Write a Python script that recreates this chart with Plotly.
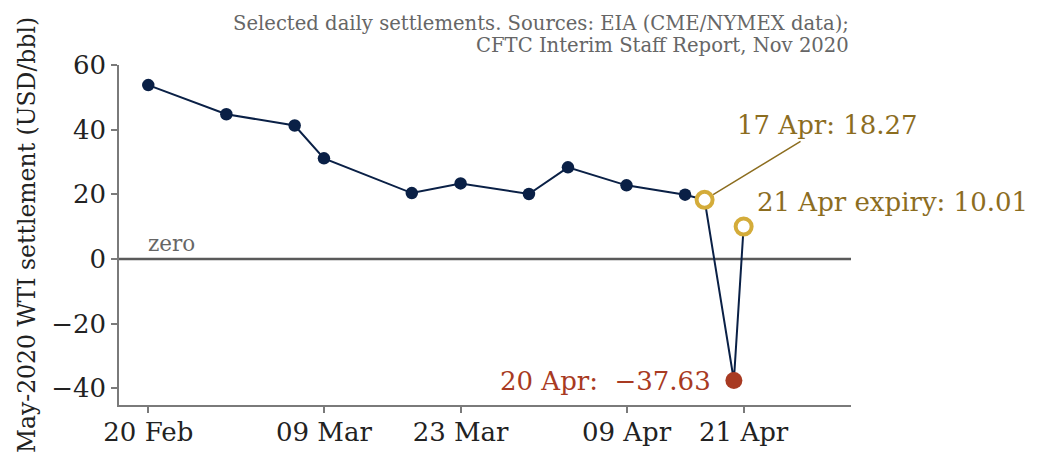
import plotly.graph_objects as go

dates = ["2020-02-20", "2020-02-28", "2020-03-06", "2020-03-09", "2020-03-18",
         "2020-03-23", "2020-03-30", "2020-04-03", "2020-04-09", "2020-04-15",
         "2020-04-17", "2020-04-20", "2020-04-21"]
prices = [53.78, 44.76, 41.28, 31.13, 20.37, 23.36, 20.09, 28.34, 22.76, 19.87,
          18.27, -37.63, 10.01]

hollow_dates = ["2020-04-17", "2020-04-21"]
hollow_prices = [18.27, 10.01]
neg_date = ["2020-04-20"]
neg_price = [-37.63]

tick_vals = ["2020-02-20", "2020-03-09", "2020-03-23", "2020-04-09", "2020-04-21"]
tick_text = ["20 Feb", "09 Mar", "23 Mar", "09 Apr", "21 Apr"]

NAVY = "#0a2046"
GOLD = "#d4ac3a"
GOLD_TXT = "#8c6d1f"
RED = "#a83a22"
AXC = "#7a7a7a"
FONT = "DejaVu Serif"

fig = go.Figure()
fig.add_shape(type="line", xref="paper", x0=0, x1=1, yref="y", y0=0, y1=0,
              line=dict(color="#5a5a5a", width=2.5), layer="below")
fig.add_trace(go.Scatter(x=dates, y=prices, mode="lines",
                         line=dict(color=NAVY, width=2), showlegend=False))
fig.add_trace(go.Scatter(x=dates[:-3], y=prices[:-3], mode="markers",
                         marker=dict(color=NAVY, size=12.5), showlegend=False))
fig.add_trace(go.Scatter(x=neg_date, y=neg_price, mode="markers",
                         marker=dict(color=RED, size=17), showlegend=False))
fig.add_trace(go.Scatter(x=hollow_dates, y=hollow_prices, mode="markers",
                         marker=dict(color="white", size=16,
                                     line=dict(color=GOLD, width=4)),
                         showlegend=False))

fig.add_annotation(x=hollow_dates[0], y=hollow_prices[0], text="17 Apr: 18.27",
                   showarrow=True, arrowhead=0, arrowwidth=1.5, arrowcolor=GOLD_TXT,
                   ax=123, ay=-75, standoff=10,
                   font=dict(family=FONT, size=26, color=GOLD_TXT))
fig.add_annotation(x=hollow_dates[1], y=hollow_prices[1], text="21 Apr expiry: 10.01",
                   showarrow=False, xanchor="left", xshift=11, yshift=25,
                   font=dict(family=FONT, size=26, color=GOLD_TXT))
fig.add_annotation(x=neg_date[0], y=neg_price[0], text="20 Apr:  \u221237.63",
                   showarrow=False, xanchor="right", xshift=-21, yshift=0,
                   font=dict(family=FONT, size=26, color=RED))
fig.add_annotation(x=dates[0], y=0, text="zero", showarrow=False,
                   xanchor="left", yanchor="bottom", yshift=1, xshift=-2,
                   font=dict(family=FONT, size=21.5, color="#666666"))
fig.add_annotation(xref="paper", yref="paper", x=1, y=(405 - 24) / 340,
                   xanchor="right", yanchor="middle", showarrow=False,
                   text="Selected daily settlements. Sources: EIA (CME/NYMEX data);",
                   font=dict(family=FONT, size=19.6, color="#666666"))
fig.add_annotation(xref="paper", yref="paper", x=1, y=(405 - 46) / 340,
                   xanchor="right", yanchor="middle", showarrow=False,
                   text="CFTC Interim Staff Report, Nov 2020",
                   font=dict(family=FONT, size=19.6, color="#666666"))

fig.update_layout(
    width=1042, height=462,
    margin=dict(l=119, r=191, t=65, b=57),
    paper_bgcolor="white", plot_bgcolor="white",
    font=dict(family=FONT, size=26, color="#222222"),
    xaxis=dict(type="date", range=["2020-02-17", "2020-05-02"],
               tickvals=tick_vals, ticktext=tick_text,
               showgrid=False, zeroline=False, showline=True,
               linecolor=AXC, linewidth=1.5, ticks="outside", ticklen=6,
               tickcolor=AXC, tickwidth=1.5, ticklabelstandoff=-3,
               tickfont=dict(family=FONT, size=26, color="#222222")),
    yaxis=dict(range=[-45.2, 60], tickvals=[60, 40, 20, 0, -20, -40],
               ticktext=["60", "40", "20", "0", "\u221220", "\u221240"],
               showgrid=False, zeroline=False, showline=True,
               linecolor=AXC, linewidth=1.5, ticks="outside", ticklen=6,
               tickcolor=AXC, tickwidth=1.5,
               tickfont=dict(family=FONT, size=26, color="#222222"),
               title=dict(text="May-2020 WTI settlement (USD/bbl)",
                          font=dict(family=FONT, size=23.5, color="#222222"),
                          standoff=9)),
)

fig.write_html("out.html")
